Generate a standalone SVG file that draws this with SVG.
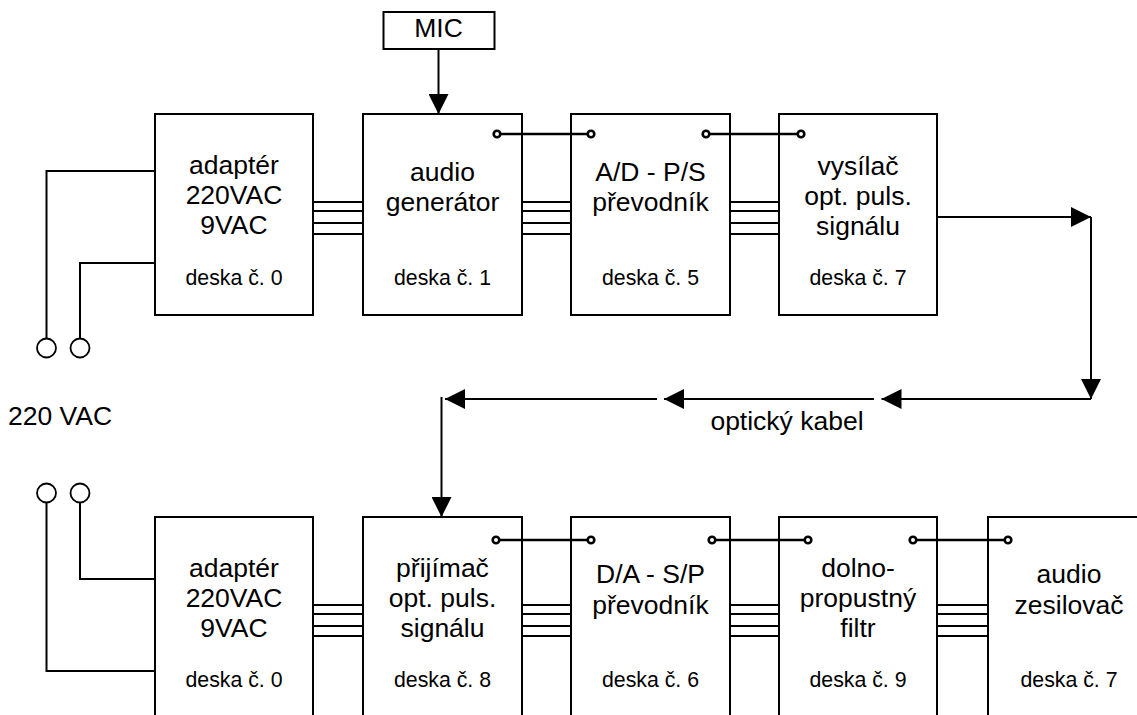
<svg xmlns="http://www.w3.org/2000/svg" width="1137" height="715" viewBox="0 0 1137 715">
<style>
.box{fill:#fff;stroke:#000;stroke-width:2}
.ln{fill:none;stroke:#000;stroke-width:2}
.sig{fill:none;stroke:#000;stroke-width:2.7}
.dot{fill:#fff;stroke:#000;stroke-width:2.6}
.term{fill:#fff;stroke:#000;stroke-width:1.8}
.t{font-family:"Liberation Sans",Arial,sans-serif;font-size:26.5px;text-anchor:middle;fill:#000}
.s{font-family:"Liberation Sans",Arial,sans-serif;font-size:21.3px;text-anchor:middle;fill:#000}
.l{font-family:"Liberation Sans",Arial,sans-serif;font-size:26.5px;fill:#000}
</style>
<defs>
<marker id="ah" viewBox="0 0 20 20" refX="20" refY="10" markerWidth="20" markerHeight="20" markerUnits="userSpaceOnUse" orient="auto">
<path d="M0,0 L20,10 L0,20 Z" fill="#000"/>
</marker>
</defs>

<g id="connectors">
<!-- power wires top -->
<path class="ln" d="M155,171 H46.5 V338.5"/>
<path class="ln" d="M155,263 H80 V338.5"/>
<circle class="term" cx="46.5" cy="348" r="9.5"/>
<circle class="term" cx="80" cy="348" r="9.5"/>
<!-- power wires bottom -->
<path class="ln" d="M155,671 H46.5 V503"/>
<path class="ln" d="M155,579 H80 V503"/>
<circle class="term" cx="46.5" cy="493" r="9.5"/>
<circle class="term" cx="80" cy="493" r="9.5"/>
<!-- buses top -->
<path class="ln" d="M313,202 H363 M313,211 H363 M313,223 H363 M313,234 H363"/>
<path class="ln" d="M522,202 H571 M522,211 H571 M522,223 H571 M522,234 H571"/>
<path class="ln" d="M730,202 H779 M730,211 H779 M730,223 H779 M730,234 H779"/>
<!-- buses bottom -->
<path class="ln" d="M313,605 H363 M313,614 H363 M313,626 H363 M313,636 H363"/>
<path class="ln" d="M522,605 H571 M522,614 H571 M522,626 H571 M522,636 H571"/>
<path class="ln" d="M730,605 H779 M730,614 H779 M730,626 H779 M730,636 H779"/>
<path class="ln" d="M937,605 H988 M937,614 H988 M937,626 H988 M937,636 H988"/>
<!-- MIC arrow -->
<line class="ln" x1="438.5" y1="49" x2="438.5" y2="114" marker-end="url(#ah)"/>
<!-- optical path -->
<line class="ln" x1="937" y1="217" x2="1091" y2="217" marker-end="url(#ah)"/>
<line class="ln" x1="1091" y1="217" x2="1091" y2="399" marker-end="url(#ah)"/>
<line class="ln" x1="1091" y1="399" x2="881.5" y2="399" marker-end="url(#ah)"/>
<line class="ln" x1="874" y1="399" x2="664" y2="399" marker-end="url(#ah)"/>
<line class="ln" x1="657" y1="399" x2="445" y2="399" marker-end="url(#ah)"/>
<line class="ln" x1="441.5" y1="397" x2="441.5" y2="517" marker-end="url(#ah)"/>
</g>

<g id="n-mic">
<rect class="box" x="383.5" y="12" width="111" height="37"/>
<text class="t" x="438.5" y="37">MIC</text>
</g>

<g id="n-adapter-top">
<rect class="box" x="155" y="114" width="158" height="201"/>
<text class="t" x="234" y="174">adaptér</text>
<text class="t" x="234" y="204">220VAC</text>
<text class="t" x="234" y="234">9VAC</text>
<text class="s" x="234" y="285">deska č. 0</text>
</g>

<g id="n-audiogen">
<rect class="box" x="363" y="114" width="159" height="201"/>
<text class="t" x="442.5" y="181">audio</text>
<text class="t" x="442.5" y="211">generátor</text>
<text class="s" x="442.5" y="285">deska č. 1</text>
</g>

<g id="n-adps">
<rect class="box" x="571" y="114" width="159" height="201"/>
<text class="t" x="650.5" y="181">A/D - P/S</text>
<text class="t" x="650.5" y="211">převodník</text>
<text class="s" x="650.5" y="285">deska č. 5</text>
</g>

<g id="n-vysilac">
<rect class="box" x="779" y="114" width="158" height="201"/>
<text class="t" x="858" y="175">vysílač</text>
<text class="t" x="858" y="205">opt. puls.</text>
<text class="t" x="858" y="235">signálu</text>
<text class="s" x="858" y="285">deska č. 7</text>
</g>

<g id="n-adapter-bottom">
<rect class="box" x="155" y="517" width="158" height="220"/>
<text class="t" x="234" y="577">adaptér</text>
<text class="t" x="234" y="607">220VAC</text>
<text class="t" x="234" y="637">9VAC</text>
<text class="s" x="234" y="687">deska č. 0</text>
</g>

<g id="n-prijimac">
<rect class="box" x="363" y="517" width="159" height="220"/>
<text class="t" x="442.5" y="577">přijímač</text>
<text class="t" x="442.5" y="607">opt. puls.</text>
<text class="t" x="442.5" y="637">signálu</text>
<text class="s" x="442.5" y="687">deska č. 8</text>
</g>

<g id="n-dasp">
<rect class="box" x="571" y="517" width="159" height="220"/>
<text class="t" x="650.5" y="583">D/A - S/P</text>
<text class="t" x="650.5" y="614">převodník</text>
<text class="s" x="650.5" y="687">deska č. 6</text>
</g>

<g id="n-filtr">
<rect class="box" x="779" y="517" width="158" height="220"/>
<text class="t" x="858" y="577">dolno-</text>
<text class="t" x="858" y="607">propustný</text>
<text class="t" x="858" y="637">filtr</text>
<text class="s" x="858" y="687">deska č. 9</text>
</g>

<g id="n-zesilovac">
<rect class="box" x="988" y="517" width="170" height="220"/>
<text class="t" x="1069" y="583">audio</text>
<text class="t" x="1069" y="614">zesilovač</text>
<text class="s" x="1069" y="687">deska č. 7</text>
</g>

<g id="signal-links">
<line class="sig" x1="497" y1="134" x2="591" y2="134"/>
<line class="sig" x1="706" y1="134" x2="801" y2="134"/>
<circle class="dot" cx="497" cy="134" r="3.3"/>
<circle class="dot" cx="591" cy="134" r="3.3"/>
<circle class="dot" cx="706" cy="134" r="3.3"/>
<circle class="dot" cx="801" cy="134" r="3.3"/>
<line class="sig" x1="496" y1="540" x2="591" y2="540"/>
<line class="sig" x1="712" y1="540" x2="808" y2="540"/>
<line class="sig" x1="913" y1="540" x2="1008" y2="540"/>
<circle class="dot" cx="496" cy="540" r="3.3"/>
<circle class="dot" cx="591" cy="540" r="3.3"/>
<circle class="dot" cx="712" cy="540" r="3.3"/>
<circle class="dot" cx="808" cy="540" r="3.3"/>
<circle class="dot" cx="913" cy="540" r="3.3"/>
<circle class="dot" cx="1008" cy="540" r="3.3"/>
</g>

<g id="labels">
<text class="l" x="8" y="425">220 VAC</text>
<text class="t" x="787" y="430">optický kabel</text>
</g>
</svg>
